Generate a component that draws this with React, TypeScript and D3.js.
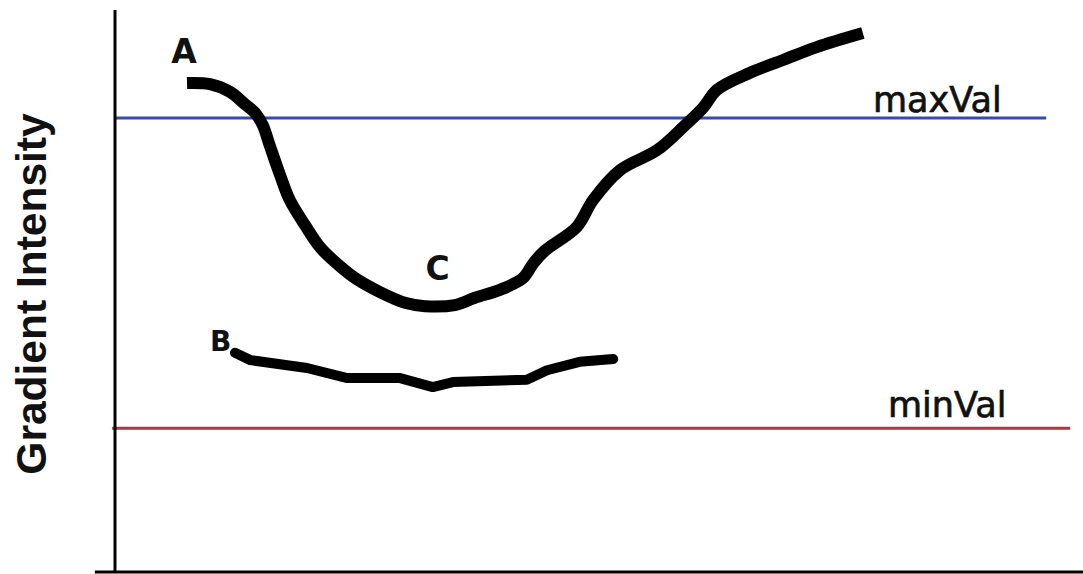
import React from "react";
import * as d3 from "d3";

// Curve A (upper curve) — x in arbitrary time units, y = gradient intensity
const curveAX = [75, 99, 120, 135, 146, 154, 161, 172, 182, 198, 214, 229, 250, 276, 302, 323, 354, 375, 401, 425, 436, 448, 481, 498, 526, 565, 592, 613, 627, 661, 696, 731, 779];
const curveAY = [87.0, 86.8, 85.4, 83.3, 81.7, 79.5, 76.0, 70.6, 66.2, 61.7, 57.7, 55.2, 52.3, 49.8, 47.9, 47.3, 47.5, 48.8, 50.2, 52.3, 55.0, 57.2, 61.4, 66.2, 71.5, 75.1, 79.2, 82.7, 85.8, 88.8, 91.1, 93.4, 95.9];

// Curve B (lower curve)
const curveBX = [125, 141, 200, 242, 297, 331, 352, 429, 450, 484, 519];
const curveBY = [39.0, 37.7, 36.3, 34.5, 34.5, 32.9, 33.8, 34.2, 35.9, 37.4, 37.9];

// Threshold lines
const thresholdNames = ["maxVal", "minVal"];
const thresholdValues = [80.8, 25.6];
const thresholdStart = [0, -3];
const thresholdEnd = [970, 995];

// Point labels
const pointLabels = ["A", "C", "B"];
const pointLabelX = [72, 336, 110];
const pointLabelY = [90.6, 52.0, 39.3];

const yAxisTitle = "Gradient Intensity";

const W = 1083;
const H = 574;

export default function App() {
  const x = d3.scaleLinear().domain([0, 1000]).range([115, 1075]);
  const y = d3.scaleLinear().domain([0, 100]).range([572, 10]);

  const lineGen = d3
    .line<[number, number]>()
    .x((d) => x(d[0]))
    .y((d) => y(d[1]))
    .curve(d3.curveCatmullRom.alpha(0.5));
  const lineLin = d3
    .line<[number, number]>()
    .x((d) => x(d[0]))
    .y((d) => y(d[1]))
    .curve(d3.curveLinear);

  const dataA: [number, number][] = curveAX.map((v, i) => [v, curveAY[i]]);
  const dataB: [number, number][] = curveBX.map((v, i) => [v, curveBY[i]]);

  const thrColors = ["#3a4aa8", "#b03442"];

  return (
    <svg
      width={W}
      height={H}
      style={{ position: "absolute", left: 0, top: 0, background: "#fff" }}
    >
      <rect x={0} y={0} width={W} height={H} fill="#fff" />
      {/* threshold lines */}
      {thresholdNames.map((n, i) => (
        <line
          key={n}
          x1={x(thresholdStart[i])}
          x2={x(thresholdEnd[i])}
          y1={y(thresholdValues[i])}
          y2={y(thresholdValues[i])}
          stroke={thrColors[i]}
          strokeWidth={3}
        />
      ))}
      {/* axes */}
      <line x1={x(0)} x2={x(0)} y1={y(100)} y2={y(0)} stroke="#000" strokeWidth={3} />
      <line x1={x(-21)} x2={W} y1={y(0)} y2={y(0)} stroke="#000" strokeWidth={3} />

      {/* curves */}
      <path
        d={lineGen(dataA) || ""}
        fill="none"
        stroke="#000"
        strokeWidth={12}
        strokeLinejoin="round"
        strokeLinecap="butt"
      />
      <path
        d={lineLin(dataB) || ""}
        fill="none"
        stroke="#000"
        strokeWidth={10}
        strokeLinejoin="round"
        strokeLinecap="round"
      />

      {/* threshold labels */}
      <text x={873} y={y(thresholdValues[0]) - 6} fontFamily="DejaVu Sans" fontSize={35} fill="#111" stroke="#111" strokeWidth={0.7}>
        {thresholdNames[0]}
      </text>
      <text x={888} y={y(thresholdValues[1]) - 11} fontFamily="DejaVu Sans" fontSize={35} fill="#111" stroke="#111" strokeWidth={0.7}>
        {thresholdNames[1]}
      </text>

      {/* point labels */}
      {pointLabels.map((l, i) => (
        <text
          key={l}
          x={x(pointLabelX[i])}
          y={y(pointLabelY[i])}
          textAnchor="middle"
          fontFamily="DejaVu Sans"
          fontWeight="bold"
          fontSize={i === 2 ? 28 : 33}
          fill="#111"
        >
          {l}
        </text>
      ))}

      {/* y axis title */}
      <text
        transform={`translate(46, ${H / 2 + 7}) rotate(-90)`}
        textAnchor="middle"
        fontFamily="Liberation Sans, Arial, sans-serif"
        fontWeight="bold"
        fontSize={42.5}
        fill="#111"
      >
        {yAxisTitle}
      </text>
    </svg>
  );
}
